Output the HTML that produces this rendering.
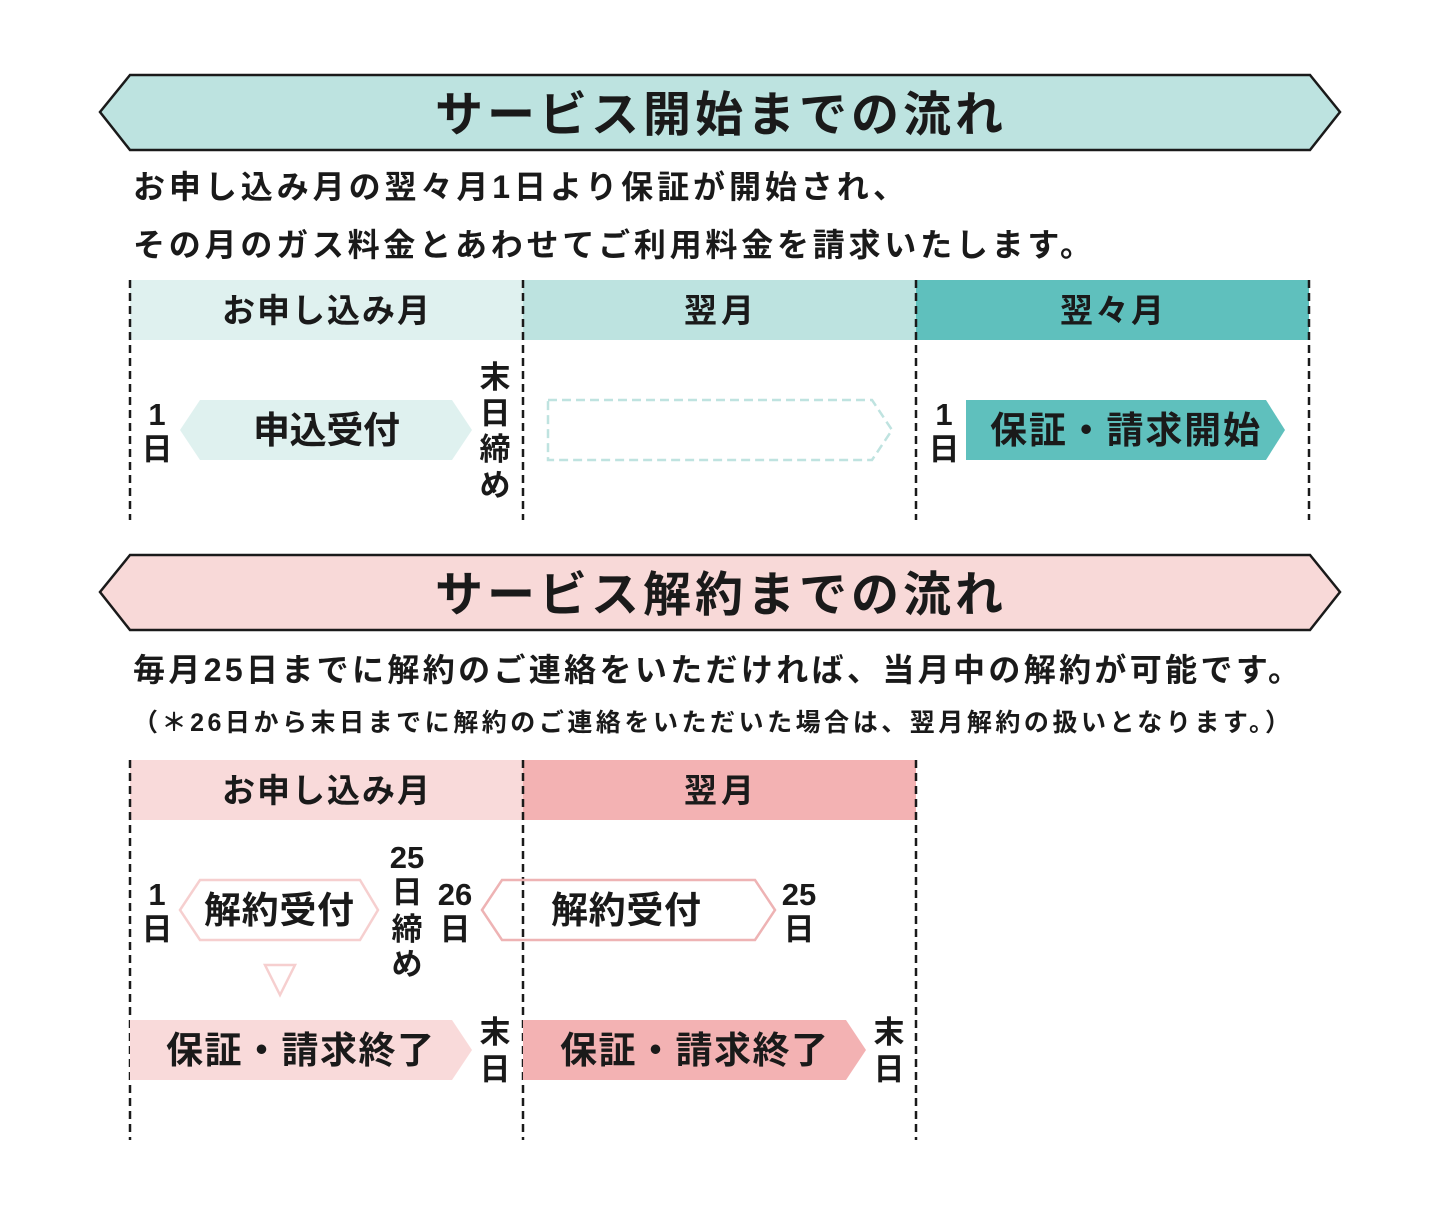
<!DOCTYPE html>
<html><head><meta charset="utf-8"><style>
html,body{margin:0;padding:0;background:#fff;}
svg{display:block;}
text{font-family:"Liberation Sans","Noto Sans CJK JP",sans-serif;fill:#1a1a1a;}
</style></head><body>
<svg width="1440" height="1215" viewBox="0 0 1440 1215" xmlns="http://www.w3.org/2000/svg">
<polygon points="130,75 1310,75 1340,112 1310,150 130,150 100,112" fill="#bde3e0" stroke="#1a1a1a" stroke-width="2.5"/>
<text x="435" y="131" font-size="48" font-weight="bold" textLength="568" lengthAdjust="spacing">サービス開始までの流れ</text>
<text x="133" y="198" font-size="32" font-weight="bold" textLength="772" lengthAdjust="spacing">お申し込み月の翌々月1日より保証が開始され、</text>
<text x="133" y="256" font-size="32" font-weight="bold" textLength="959" lengthAdjust="spacing">その月のガス料金とあわせてご利用料金を請求いたします。</text>
<rect x="130" y="280" width="393" height="60" fill="#dff1ef"/>
<rect x="523" y="280" width="393" height="60" fill="#bde3e0"/>
<rect x="916" y="280" width="393" height="60" fill="#5fc0bd"/>
<text x="222" y="322" font-size="33" font-weight="bold" textLength="208" lengthAdjust="spacing">お申し込み月</text>
<text x="684" y="322" font-size="33" font-weight="bold" textLength="70" lengthAdjust="spacing">翌月</text>
<text x="1060" y="322" font-size="33" font-weight="bold" textLength="104" lengthAdjust="spacing">翌々月</text>
<g stroke="#1a1a1a" stroke-width="2.5" stroke-dasharray="8,5">
<line x1="130" y1="280" x2="130" y2="520"/><line x1="523" y1="280" x2="523" y2="520"/>
<line x1="916" y1="280" x2="916" y2="520"/><line x1="1309" y1="280" x2="1309" y2="520"/>
</g>
<polygon points="180,430 200,400 452,400 472,430 452,460 200,460" fill="#dff1ef"/>
<text x="253" y="443" font-size="37" font-weight="bold" textLength="147" lengthAdjust="spacing">申込受付</text>
<g font-size="31" font-weight="bold" text-anchor="middle">
<text x="157" y="425">1</text><text x="157" y="460">日</text>
<text x="495" y="388">末</text><text x="495" y="424">日</text><text x="495" y="460">締</text><text x="495" y="496">め</text>
<text x="944" y="425">1</text><text x="944" y="460">日</text>
</g>
<polygon points="548,400 872,400 892,430 872,460 548,460" fill="none" stroke="#bfe3e0" stroke-width="2.5" stroke-dasharray="9,5"/>
<polygon points="966,400 1266,400 1285,430 1266,460 966,460" fill="#5fc0bd"/>
<text x="990" y="443" font-size="37" font-weight="bold" textLength="270" lengthAdjust="spacing">保証・請求開始</text>
<polygon points="130,555 1310,555 1340,592 1310,630 130,630 100,592" fill="#f8d9d8" stroke="#1a1a1a" stroke-width="2.5"/>
<text x="435" y="611" font-size="48" font-weight="bold" textLength="568" lengthAdjust="spacing">サービス解約までの流れ</text>
<text x="133" y="681" font-size="32" font-weight="bold" textLength="1167" lengthAdjust="spacing">毎月25日までに解約のご連絡をいただければ、当月中の解約が可能です。</text>
<text x="133" y="731" font-size="25" font-weight="bold" textLength="1157" lengthAdjust="spacing">（＊26日から末日までに解約のご連絡をいただいた場合は、翌月解約の扱いとなります。）</text>
<rect x="130" y="760" width="393" height="60" fill="#f9dada"/>
<rect x="523" y="760" width="393" height="60" fill="#f3b2b3"/>
<text x="222" y="802" font-size="33" font-weight="bold" textLength="208" lengthAdjust="spacing">お申し込み月</text>
<text x="684" y="802" font-size="33" font-weight="bold" textLength="70" lengthAdjust="spacing">翌月</text>
<g stroke="#1a1a1a" stroke-width="2.5" stroke-dasharray="8,5">
<line x1="130" y1="760" x2="130" y2="1140"/><line x1="523" y1="760" x2="523" y2="1140"/><line x1="916" y1="760" x2="916" y2="1140"/>
</g>
<polygon points="180,910 200,880 360,880 378,910 360,940 200,940" fill="none" stroke="#f6cfcf" stroke-width="2.5"/>
<text x="204" y="923" font-size="37" font-weight="bold" textLength="150" lengthAdjust="spacing">解約受付</text>
<polygon points="482,910 502,880 755,880 775,910 755,940 502,940" fill="none" stroke="#eeb3b4" stroke-width="2.5"/>
<text x="551" y="923" font-size="37" font-weight="bold" textLength="150" lengthAdjust="spacing">解約受付</text>
<polygon points="265,965 295,965 280,995" fill="none" stroke="#f6cfcf" stroke-width="2.5"/>
<g font-size="31" font-weight="bold" text-anchor="middle">
<text x="157" y="905">1</text><text x="157" y="940">日</text>
<text x="407" y="868">25</text><text x="407" y="903">日</text><text x="407" y="940">締</text><text x="407" y="975">め</text>
<text x="455" y="905">26</text><text x="455" y="940">日</text>
<text x="799" y="905">25</text><text x="799" y="940">日</text>
<text x="495" y="1043">末</text><text x="495" y="1080">日</text>
<text x="889" y="1043">末</text><text x="889" y="1080">日</text>
</g>
<polygon points="130,1020 452,1020 472,1050 452,1080 130,1080" fill="#f9dada"/>
<text x="166" y="1063" font-size="37" font-weight="bold" textLength="268" lengthAdjust="spacing">保証・請求終了</text>
<polygon points="523,1020 846,1020 866,1050 846,1080 523,1080" fill="#f3b2b3"/>
<text x="560" y="1063" font-size="37" font-weight="bold" textLength="268" lengthAdjust="spacing">保証・請求終了</text>
</svg>
</body></html>
